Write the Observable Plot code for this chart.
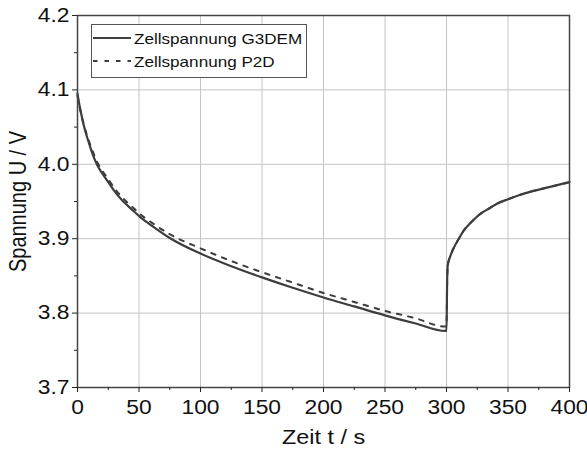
<!DOCTYPE html>
<html>
<head>
<meta charset="utf-8">
<script src="https://cdn.jsdelivr.net/npm/d3@7"></script>
<script src="https://cdn.jsdelivr.net/npm/@observablehq/plot@0.6"></script>
<style>
  html, body { margin: 0; padding: 0; background: #fff; }
  #wrap { position: relative; width: 587px; height: 453px; font-family: "Liberation Sans", Arial, sans-serif; }
  #legend { position: absolute; left: 91px; top: 24px; width: 216px; height: 54px; border: 1px solid #555; background: #fff; box-sizing: border-box; font-size: 15px; color: #111; }
  .row { position: absolute; left: 0; height: 20px; display: flex; align-items: center; white-space: nowrap; }
  .row svg { margin-left: 1px; margin-right: 3px; }
  .row span { display: inline-block; transform: scaleX(1.14); transform-origin: 0 50%; }
</style>
</head>
<body>
<div id="wrap"></div>
<script>
// Time axis (s) and cell voltages (V)
const tG3DEM = [0, 1, 2.5, 5, 7.5, 10, 12, 16, 20, 25, 30, 35, 45, 51, 60, 75, 100, 125, 150, 175, 200, 225, 250, 275, 299, 300, 300.5, 301, 303, 306, 310, 314, 320, 328, 335, 341, 350, 360, 370, 380, 390, 400];
const vG3DEM = [4.095, 4.085, 4.072, 4.053, 4.038, 4.025, 4.015, 3.999, 3.988, 3.976, 3.964, 3.954, 3.938, 3.929, 3.918, 3.901, 3.880, 3.863, 3.848, 3.834, 3.821, 3.809, 3.797, 3.786, 3.776, 3.776, 3.840, 3.864, 3.876, 3.888, 3.900, 3.911, 3.922, 3.934, 3.941, 3.947, 3.953, 3.959, 3.964, 3.968, 3.972, 3.976];
const tP2D = [0, 1, 2.5, 5, 7.5, 10, 12, 16, 20, 25, 30, 35, 45, 51, 60, 75, 100, 125, 150, 175, 200, 225, 250, 275, 298, 300, 300.5, 301, 303, 306, 310, 314, 320, 328, 335, 341, 350, 360, 370, 380, 390, 400];
const vP2D = [4.092, 4.083, 4.071, 4.054, 4.040, 4.028, 4.019, 4.003, 3.992, 3.980, 3.968, 3.958, 3.942, 3.933, 3.922, 3.906, 3.887, 3.870, 3.855, 3.841, 3.827, 3.815, 3.803, 3.793, 3.782, 3.782, 3.840, 3.864, 3.876, 3.888, 3.900, 3.911, 3.922, 3.934, 3.941, 3.947, 3.953, 3.959, 3.964, 3.968, 3.972, 3.976];

const xTicks = [0, 50, 100, 150, 200, 250, 300, 350, 400];
const xMinor = [25, 75, 125, 175, 225, 275, 325, 375];
const yTicks = [3.7, 3.8, 3.9, 4.0, 4.1, 4.2];
const yMinor = [3.75, 3.85, 3.95, 4.05, 4.15];
const seriesNames = ["Zellspannung G3DEM", "Zellspannung P2D"];

const g3 = tG3DEM.map((t, i) => ({t, v: vG3DEM[i]}));
const p2 = tP2D.map((t, i) => ({t, v: vP2D[i]}));

const lineColor = "#3d3d3d";
const stretch = 1.17;

const chart = Plot.plot({
  width: 587,
  height: 453,
  marginLeft: 77,
  marginRight: 18,
  marginTop: 15,
  marginBottom: 66,
  style: { fontFamily: "'Liberation Sans', Arial, sans-serif", background: "#fff", color: "#111", overflow: "visible" },
  x: { domain: [0, 400] },
  y: { domain: [3.7, 4.2] },
  marks: [
    Plot.gridX(xTicks.slice(1, -1), { stroke: "#c4c4c4", strokeOpacity: 1, strokeWidth: 1 }),
    Plot.gridY(yTicks.slice(1, -1), { stroke: "#c4c4c4", strokeOpacity: 1, strokeWidth: 1 }),
    Plot.line(p2, { x: "t", y: "v", stroke: lineColor, strokeWidth: 2, strokeDasharray: "4.5 7", curve: "monotone-x" }),
    Plot.line(g3, { x: "t", y: "v", stroke: lineColor, strokeWidth: 2.2, curve: "monotone-x" }),
    Plot.frame({ stroke: "#444", strokeWidth: 1.5 }),
    Plot.axisX(xTicks, { tickSize: 5, tickPadding: 8, fontSize: 19.5, tickFormat: d => String(d), stroke: "#222",
      label: "Zeit t / s", labelAnchor: "center", labelArrow: "none", labelOffset: 56 }),
    Plot.axisX(xMinor, { tickSize: 3, tickFormat: () => "", stroke: "#222", label: null }),
    Plot.axisY(yTicks, { tickSize: 5, tickPadding: 3, fontSize: 19.5, tickFormat: d => d.toFixed(1), stroke: "#222",
      label: "Spannung U / V", labelAnchor: "center", labelArrow: "none", labelOffset: 68 }),
    Plot.axisY(yMinor, { tickSize: 3, tickFormat: () => "", stroke: "#222", label: null })
  ]
});
d3.select(chart).selectAll("g[aria-label='x-axis label'] text, g[aria-label='y-axis label'] text").style("font-size", "20px");

const wrap = document.getElementById("wrap");
wrap.appendChild(chart);

// the reference is horizontally stretched: widen text glyphs around their anchors
d3.select(chart).selectAll("text").each(function() {
  const el = this;
  if (!el.textContent) return;
  const tr = el.getAttribute("transform") || "";
  const x = +el.getAttribute("x") || 0;
  const rotated = /rotate/.test(tr);
  const s = rotated ? `scale(1,${stretch})` : `translate(${x},0) scale(${stretch},1) translate(${-x},0)`;
  el.setAttribute("transform", (tr + " " + s).trim());
});

const legend = document.createElement("div");
legend.id = "legend";
const dashes = [null, "4.5 7"];
seriesNames.forEach((name, i) => {
  const row = document.createElement("div");
  row.className = "row";
  row.style.top = (3 + i * 23) + "px";
  const dash = dashes[i] ? `stroke-dasharray="${dashes[i]}"` : "";
  row.innerHTML = `<svg width="38" height="10"><line x1="0" y1="5" x2="38" y2="5" stroke="${lineColor}" stroke-width="2" ${dash}/></svg><span>${name}</span>`;
  legend.appendChild(row);
});
wrap.appendChild(legend);
</script>
</body>
</html>
